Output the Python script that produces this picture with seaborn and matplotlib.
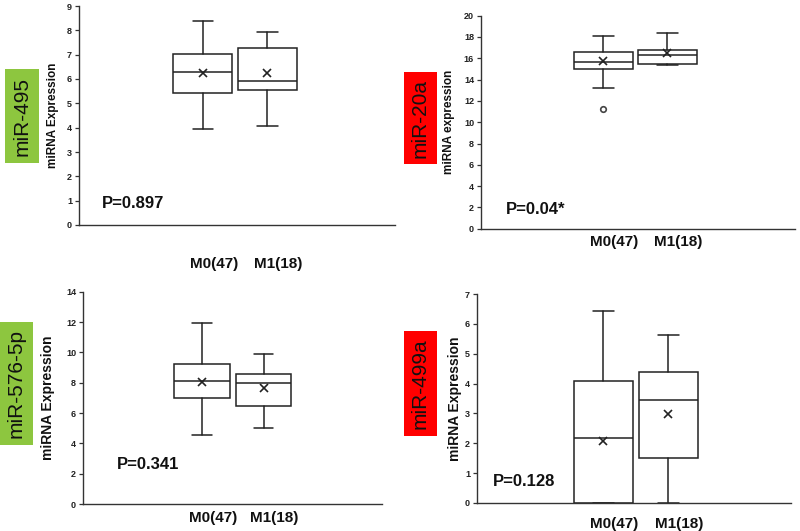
import matplotlib
matplotlib.use("Agg")
import matplotlib.pyplot as plt
import seaborn as sns
from matplotlib.patches import Rectangle
from matplotlib.transforms import ScaledTranslation

sns.set_style("white")
plt.rcParams['font.family'] = ['Liberation Sans', 'DejaVu Sans']

# Data (five-number summaries per group)
groups = ["M0(47)", "M1(18)"]
mirnas = ["miR-495", "miR-20a", "miR-576-5p", "miR-499a"]
low_whisker = [[3.94, 4.06], [13.18, 15.37], [4.57, 5.01], [0.0, 0.0]]
q1 = [[5.42, 5.55], [14.99, 15.49], [6.99, 6.46], [0.0, 1.52]]
median = [[6.27, 5.90], [15.62, 16.34], [8.13, 7.98], [2.18, 3.45]]
q3 = [[7.03, 7.28], [16.62, 16.81], [9.25, 8.57], [4.10, 4.38]]
high_whisker = [[8.39, 7.93], [18.12, 18.37], [11.96, 9.91], [6.42, 5.63]]
means = [[6.25, 6.24], [15.71, 16.46], [8.02, 7.63], [2.09, 2.99]]
outliers = [[[], []], [[11.24], []], [[], []], [[], []]]
p_values = ["P=0.897", "P=0.04*", "P=0.341", "P=0.128"]
y_max = [9, 20, 14, 7]
y_step = [1, 2, 2, 1]
y_labels = ["miRNA Expression", "miRNA expression", "miRNA Expression", "miRNA Expression"]
tag_colors = ["#8DC63F", "#FF0000", "#8DC63F", "#FF0000"]

# Layout in pixels (left, top, right, bottom)
axes_px = [(79, 6, 395, 225), (481, 15.7, 795, 228.7),
           (83, 291.7, 382, 504), (477, 294, 791, 503)]
tag_px = [(5, 69, 39, 163), (404, 72, 437, 164),
          (0, 322, 33, 445), (404, 331, 437, 436)]
xlims = [(-0.92, 3.98), (-0.91, 3.99), (-0.94, 3.93), (-0.94, 3.89)]
label_pad = [23, 4.5, 5, 10]
ylabel_x = [-0.063, -0.083, -0.094, -0.048]
ylabel_size = [8.5, 8.5, 10, 10]
p_pos = [(0.073, 0.096), (0.08, 0.092), (0.114, 0.184), (0.051, 0.105)]

W, H = 800, 531
fig = plt.figure(figsize=(W / 100, H / 100), dpi=100)

for i in range(4):
    x0, y0, x1, y1 = axes_px[i]
    ax = fig.add_axes([x0 / W, 1 - y1 / H, (x1 - x0) / W, (y1 - y0) / H])

    stats = []
    for g in range(2):
        stats.append({
            'label': groups[g],
            'whislo': low_whisker[i][g],
            'q1': q1[i][g],
            'med': median[i][g],
            'q3': q3[i][g],
            'whishi': high_whisker[i][g],
            'mean': means[i][g],
            'fliers': outliers[i][g],
        })

    ax.bxp(stats, positions=[1, 2], widths=0.91, capwidths=0.32,
           showmeans=True, patch_artist=True,
           boxprops=dict(facecolor='white', edgecolor='#222222', linewidth=1.1),
           medianprops=dict(color='#222222', linewidth=1.1),
           whiskerprops=dict(color='#222222', linewidth=1.1),
           capprops=dict(color='#222222', linewidth=1.1),
           meanprops=dict(marker='x', markeredgecolor='#222222',
                          markersize=6, markeredgewidth=1.2),
           flierprops=dict(marker='o', markersize=4, markerfacecolor='none',
                           markeredgecolor='#444444', markeredgewidth=1.2))

    ax.set_xlim(*xlims[i])
    ax.set_ylim(0, y_max[i])
    ax.set_yticks(range(0, y_max[i] + 1, y_step[i]))
    for s in ['top', 'right']:
        ax.spines[s].set_visible(False)
    for s in ['left', 'bottom']:
        ax.spines[s].set_color('#333333')
        ax.spines[s].set_linewidth(1.0)

    ax.tick_params(axis='y', left=True, length=3, width=0.9, color='#333333',
                   pad=2, labelsize=6.5)
    for lbl in ax.get_yticklabels():
        lbl.set_fontweight('bold')
        lbl.set_color('#222222')

    ax.set_xticks([1, 2])
    ax.set_xticklabels(groups, fontsize=11, fontweight='bold', color='#111111')
    ax.tick_params(axis='x', length=0, pad=label_pad[i])
    for lbl in ax.get_xticklabels():
        lbl.set_transform(lbl.get_transform() +
                          ScaledTranslation(0.11, 0, fig.dpi_scale_trans))

    ax.set_ylabel(y_labels[i], fontsize=ylabel_size[i], fontweight='bold',
                  color='#111111')
    ax.yaxis.set_label_coords(ylabel_x[i], 0.5)

    ax.text(p_pos[i][0], p_pos[i][1], p_values[i], transform=ax.transAxes,
            fontsize=12, fontweight='bold', ha='left', va='center',
            color='#111111')

    # colored miRNA tag
    tx0, ty0, tx1, ty1 = tag_px[i]
    fig.patches.append(Rectangle((tx0 / W, 1 - ty1 / H), (tx1 - tx0) / W,
                                 (ty1 - ty0) / H, transform=fig.transFigure,
                                 facecolor=tag_colors[i], edgecolor='none'))
    fig.text((tx0 + tx1) / 2 / W, 1 - (ty0 + ty1) / 2 / H, mirnas[i],
             rotation=90, ha='center', va='center', fontsize=15,
             color='#111111')

fig.savefig("out.png", dpi=100, facecolor='white')
